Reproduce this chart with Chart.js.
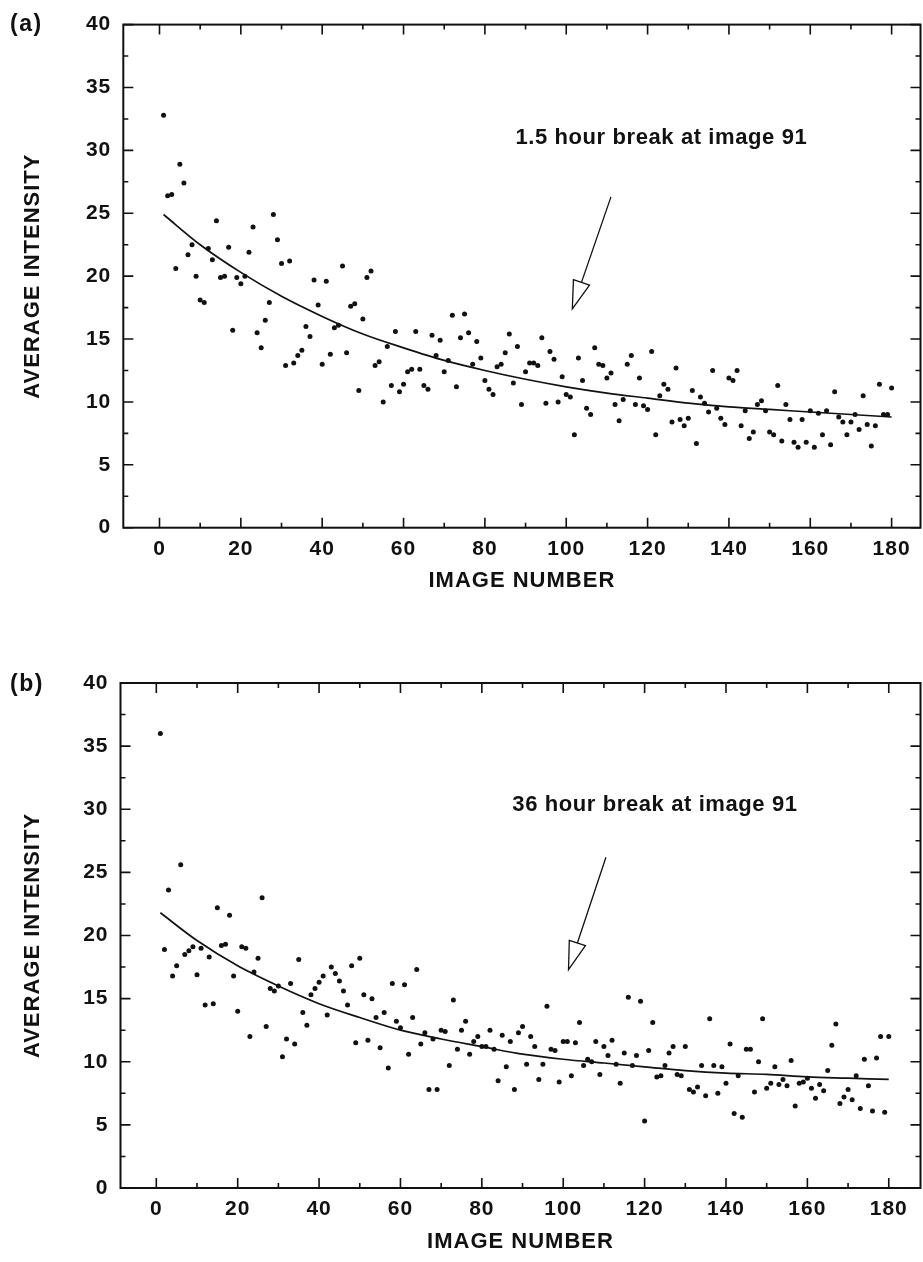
<!DOCTYPE html>
<html>
<head>
<meta charset="utf-8">
<script src="https://cdn.jsdelivr.net/npm/chart.js@4.4.1/dist/chart.umd.min.js"></script>
<style>
  html, body { margin: 0; padding: 0; background: #fff; }
  .panel { position: absolute; left: 0; width: 923px; height: 631px; }
  #panelA { top: 0; }
  #panelB { top: 631px; }
</style>
</head>
<body>
<div class="panel" id="panelA"><canvas id="chartA" width="923" height="631"></canvas></div>
<div class="panel" id="panelB"><canvas id="chartB" width="923" height="631"></canvas></div>
<script>
// average intensity per image, images 1..180
const intensityA = [
  32.8, 26.4, 26.5, 20.6, 28.9, 27.4, 21.7, 22.5, 20.0, 18.1,
  17.9, 22.2, 21.3, 24.4, 19.9, 20.0, 22.3, 15.7, 19.9, 19.4,
  20.0, 21.9, 23.9, 15.5, 14.3, 16.5, 17.9, 24.9, 22.9, 21.0,
  12.9, 21.2, 13.1, 13.7, 14.1, 16.0, 15.2, 19.7, 17.7, 13.0,
  19.6, 13.8, 15.9, 16.1, 20.8, 13.9, 17.6, 17.8, 10.9, 16.6,
  19.9, 20.4, 12.9, 13.2, 10.0, 14.4, 11.3, 15.6, 10.8, 11.4,
  12.4, 12.6, 15.6, 12.6, 11.3, 11.0, 15.3, 13.7, 14.9, 12.4,
  13.3, 16.9, 11.2, 15.1, 17.0, 15.5, 13.0, 14.8, 13.5, 11.7,
  11.0, 10.6, 12.8, 13.0, 13.9, 15.4, 11.5, 14.4, 9.8, 12.4,
  13.1, 13.1, 12.9, 15.1, 9.9, 14.0, 13.4, 10.0, 12.0, 10.6,
  10.4, 7.4, 13.5, 11.7, 9.5, 9.0, 14.3, 13.0, 12.9, 11.9,
  12.3, 9.8, 8.5, 10.2, 13.0, 13.7, 9.8, 11.9, 9.7, 9.4,
  14.0, 7.4, 10.5, 11.4, 11.0, 8.4, 12.7, 8.6, 8.1, 8.7,
  10.9, 6.7, 10.4, 9.9, 9.2, 12.5, 9.5, 8.7, 8.2, 11.9,
  11.7, 12.5, 8.1, 9.3, 7.1, 7.6, 9.8, 10.1, 9.3, 7.6,
  7.4, 11.3, 6.9, 9.8, 8.6, 6.8, 6.4, 8.6, 6.8, 9.3,
  6.4, 9.1, 7.4, 9.3, 6.6, 10.8, 8.8, 8.4, 7.4, 8.4,
  9.0, 7.8, 10.5, 8.2, 6.5, 8.1, 11.4, 9.0, 9.0, 11.1
];

const intensityB = [
  36.0, 18.9, 23.6, 16.8, 17.6, 25.6, 18.5, 18.8, 19.1, 16.9,
  19.0, 14.5, 18.3, 14.6, 22.2, 19.2, 19.3, 21.6, 16.8, 14.0,
  19.1, 19.0, 12.0, 17.1, 18.2, 23.0, 12.8, 15.8, 15.6, 16.0,
  10.4, 11.8, 16.2, 11.4, 18.1, 13.9, 12.9, 15.3, 15.8, 16.3,
  16.8, 13.7, 17.5, 17.0, 16.4, 15.6, 14.5, 17.6, 11.5, 18.2,
  15.3, 11.7, 15.0, 13.5, 11.1, 13.9, 9.5, 16.2, 13.2, 12.7,
  16.1, 10.6, 13.5, 17.3, 11.4, 12.3, 7.8, 11.8, 7.8, 12.5,
  12.4, 9.7, 14.9, 11.0, 12.5, 13.2, 10.6, 11.6, 12.0, 11.2,
  11.2, 12.5, 11.0, 8.5, 12.1, 9.6, 11.6, 7.8, 12.3, 12.8,
  9.8, 12.0, 11.2, 8.6, 9.8, 14.4, 11.0, 10.9, 8.4, 11.6,
  11.6, 8.9, 11.5, 13.1, 9.7, 10.2, 10.0, 11.6, 9.0, 11.2,
  10.5, 11.7, 9.8, 8.3, 10.7, 15.1, 9.7, 10.5, 14.8, 5.3,
  10.9, 13.1, 8.8, 8.9, 9.7, 10.7, 11.2, 9.0, 8.9, 11.2,
  7.8, 7.6, 8.0, 9.7, 7.3, 13.4, 9.7, 7.5, 9.6, 8.3,
  11.4, 5.9, 8.9, 5.6, 11.0, 11.0, 7.6, 10.0, 13.4, 7.9,
  8.3, 9.6, 8.2, 8.6, 8.1, 10.1, 6.5, 8.3, 8.4, 8.7,
  7.9, 7.1, 8.2, 7.7, 9.3, 11.3, 13.0, 6.7, 7.2, 7.8,
  7.0, 8.9, 6.3, 10.2, 8.1, 6.1, 10.3, 12.0, 6.0, 12.0
];

// fitted decay curves, sampled along the image axis
const fitImages = [1, 10, 20, 30, 40, 50, 60, 70, 80, 90, 100, 110, 120, 130, 140, 150, 160, 170, 180];
const fitA = [24.9, 22.5, 20.3, 18.4, 16.8, 15.4, 14.3, 13.3, 12.5, 11.8, 11.2, 10.7, 10.3, 9.9, 9.6, 9.4, 9.2, 9.0, 8.8];
const fitB = [21.8, 19.6, 17.6, 16.0, 14.6, 13.5, 12.5, 11.8, 11.2, 10.6, 10.2, 9.9, 9.6, 9.3, 9.1, 9.0, 8.8, 8.7, 8.6];

const yTickLabels = ['0', '5', '10', '15', '20', '25', '30', '35', '40'];
const xTickLabels = ['0', '20', '40', '60', '80', '100', '120', '140', '160', '180'];

const FONT = '"Liberation Sans", Arial, Helvetica, sans-serif';
const INK = '#111';

function toPoints(values) {
  return values.map((v, i) => ({ x: i + 1, y: v }));
}

// frame with inward ticks, arrow, note and panel tag
const panelDecor = {
  id: 'panelDecor',
  beforeDraw(chart) {
    // a little tracking for tick labels and axis titles
    chart.ctx.letterSpacing = '1px';
  },
  afterDraw(chart, args, o) {
    const { ctx, chartArea: a, scales: { x, y } } = chart;
    ctx.save();
    ctx.strokeStyle = INK;
    ctx.lineWidth = 2;
    ctx.strokeRect(a.left, a.top, a.right - a.left, a.bottom - a.top);

    ctx.lineWidth = 1.6;
    ctx.beginPath();
    y.ticks.forEach(t => {
      const py = y.getPixelForValue(t.value);
      const len = t.value % 5 === 0 ? 10 : 5;
      ctx.moveTo(a.left, py); ctx.lineTo(a.left + len, py);
      ctx.moveTo(a.right, py); ctx.lineTo(a.right - len, py);
    });
    x.ticks.forEach(t => {
      if (t.value < 0 || t.value > 180) return;
      const px = x.getPixelForValue(t.value);
      const len = t.value % 20 === 0 ? 10 : 5;
      ctx.moveTo(px, a.bottom); ctx.lineTo(px, a.bottom - len);
      ctx.moveTo(px, a.top); ctx.lineTo(px, a.top + len);
    });
    ctx.stroke();

    // arrow with hollow head
    const x0 = x.getPixelForValue(o.arrowFrom[0]), y0 = y.getPixelForValue(o.arrowFrom[1]);
    const x1 = x.getPixelForValue(o.arrowTo[0]), y1 = y.getPixelForValue(o.arrowTo[1]);
    const ang = Math.atan2(y1 - y0, x1 - x0);
    const headLen = 28, halfW = 8.5;
    const bx = x1 - headLen * Math.cos(ang), by = y1 - headLen * Math.sin(ang);
    ctx.lineWidth = 1.3;
    ctx.beginPath();
    ctx.moveTo(x0, y0); ctx.lineTo(bx, by);
    ctx.stroke();
    ctx.beginPath();
    ctx.moveTo(bx + halfW * Math.sin(ang), by - halfW * Math.cos(ang));
    ctx.lineTo(x1, y1);
    ctx.lineTo(bx - halfW * Math.sin(ang), by + halfW * Math.cos(ang));
    ctx.closePath();
    ctx.stroke();

    ctx.fillStyle = INK;
    ctx.letterSpacing = '0.6px';
    ctx.textBaseline = 'alphabetic';
    ctx.textAlign = 'left';
    ctx.font = 'bold 22px ' + FONT;
    ctx.fillText(o.note, x.getPixelForValue(o.noteAt[0]), y.getPixelForValue(o.noteAt[1]));

    ctx.letterSpacing = '1.5px';
    ctx.textBaseline = 'middle';
    ctx.font = 'bold 23px ' + FONT;
    ctx.fillText(o.tag, 10, o.tagY);
    ctx.restore();
  }
};

function buildPanel(id, values, fit, p) {
  return new Chart(document.getElementById(id), {
    type: 'scatter',
    data: {
      datasets: [
        {
          data: toPoints(values),
          backgroundColor: INK,
          borderColor: INK,
          pointRadius: 2.5,
          pointHoverRadius: 2.5,
          borderWidth: 0
        },
        {
          type: 'line',
          data: fitImages.map((n, i) => ({ x: n, y: fit[i] })),
          borderColor: INK,
          borderWidth: 1.7,
          pointRadius: 0,
          fill: false,
          cubicInterpolationMode: 'monotone'
        }
      ]
    },
    options: {
      responsive: false,
      animation: false,
      layout: { padding: { top: p.top, right: 1, left: 0, bottom: 0 } },
      plugins: {
        legend: { display: false },
        tooltip: { enabled: false },
        panelDecor: p.decor
      },
      scales: {
        x: {
          type: 'linear',
          min: p.xMin,
          max: p.xMax,
          afterFit: s => { s.height = p.xAxisHeight; },
          grid: { display: false, drawTicks: false },
          border: { display: false },
          ticks: {
            stepSize: 10,
            includeBounds: false,
            autoSkip: false,
            maxRotation: 0,
            padding: 9,
            color: INK,
            font: { family: FONT, size: 21, weight: 'bold' },
            callback: v => xTickLabels.includes(String(v)) ? String(v) : ''
          },
          title: {
            display: true,
            text: 'IMAGE NUMBER',
            color: INK,
            font: { family: FONT, size: 22, weight: 'bold' },
            padding: { top: 0, bottom: p.xTitlePad }
          }
        },
        y: {
          min: 0,
          max: 40,
          afterFit: s => { s.width = p.yAxisWidth; },
          grid: { display: false, drawTicks: false },
          border: { display: false },
          ticks: {
            stepSize: 2.5,
            autoSkip: false,
            padding: 12,
            color: INK,
            font: { family: FONT, size: 21, weight: 'bold' },
            callback: v => yTickLabels.includes(String(v)) ? String(v) : ''
          },
          title: {
            display: true,
            text: 'AVERAGE INTENSITY',
            color: INK,
            font: { family: FONT, size: 22, weight: 'bold' },
            padding: { top: 20, bottom: 0 }
          }
        }
      }
    },
    plugins: [panelDecor]
  });
}

buildPanel('chartA', intensityA, fitA, {
  top: 22.7, xAxisHeight: 103.3, yAxisWidth: 123.3, xMin: -8.9, xMax: 187.1, xTitlePad: 37,
  decor: { note: '1.5 hour break at image 91', noteAt: [87.5, 30.5], arrowFrom: [111, 26.3], arrowTo: [101.5, 17.4], tag: '(a)', tagY: 25 }
});

buildPanel('chartB', intensityB, fitB, {
  top: 52, xAxisHeight: 74, yAxisWidth: 120.5, xMin: -8.8, xMax: 187.8, xTitlePad: 7,
  decor: { note: '36 hour break at image 91', noteAt: [87.5, 29.9], arrowFrom: [110.5, 26.2], arrowTo: [101.3, 17.3], tag: '(b)', tagY: 54 }
});
</script>
</body>
</html>
